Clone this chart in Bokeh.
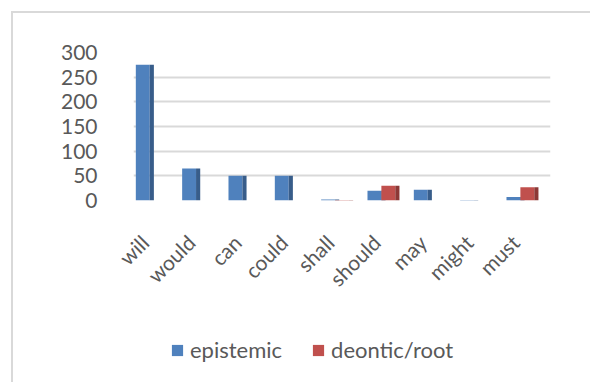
import math
from bokeh.plotting import figure
from bokeh.layouts import column
from bokeh.models import (ColumnDataSource, FixedTicker, Legend, LegendItem,
                          LinearAxis, Range1d)
from bokeh.transform import dodge
from bokeh.embed import file_html
from bokeh.resources import INLINE

categories = ["will", "would", "can", "could", "shall", "should", "may", "might", "must"]
epistemic = [275, 65, 50, 50, 2, 20, 22, 1, 7]
deontic = [0, 0, 0, 0, 1, 30, 0, 0, 27]
y_ticks = [0, 50, 100, 150, 200, 250, 300]
series_names = ["epistemic", "deontic/root"]

FONT = "Lato"
TXT = "#595959"
BLUE, BLUE_SIDE = "#4F81BD", "#385D8A"
RED, RED_SIDE = "#C0504D", "#8C3836"

n = len(categories)
src = ColumnDataSource(dict(idx=list(range(n)), cat=categories, epi=epistemic, deo=deontic))

label_shift = 0.26  # labels sit slightly left of the bar groups, as in the original
p = figure(x_range=Range1d(-0.5, n - 0.5), y_range=(0, 300),
           width=577, height=317, output_backend="svg", toolbar_location=None,
           min_border_left=120, min_border_right=40, min_border_top=39, min_border_bottom=130)
p.extra_x_ranges = {"labels": Range1d(-0.5 + label_shift, n - 0.5 + label_shift)}
p.outline_line_color = None
p.background_fill_color = "white"
p.border_fill_color = "white"

bw = 0.3
sw = 0.09
p.vbar(x=dodge("idx", -0.3), top="epi", width=bw, source=src,
       fill_color=BLUE, line_color=None)
p.vbar(x=dodge("idx", -0.15 + sw / 2), top="epi", width=sw, source=src,
       fill_color=BLUE_SIDE, line_color=None)
p.vbar(x=dodge("idx", 0.0), top="deo", width=bw, source=src,
       fill_color=RED, line_color=None)
p.vbar(x=dodge("idx", 0.15 + sw / 2), top="deo", width=sw, source=src,
       fill_color=RED_SIDE, line_color=None)

p.xgrid.grid_line_color = None
p.ygrid.grid_line_color = "#D9D9D9"
p.ygrid.grid_line_width = 2
p.yaxis.ticker = FixedTicker(ticks=y_ticks)
p.xaxis[0].visible = False

xlab = LinearAxis(x_range_name="labels",
                  ticker=FixedTicker(ticks=list(range(n))),
                  major_label_overrides={i: c for i, c in enumerate(categories)})
p.add_layout(xlab, "below")

for ax in (xlab, p.yaxis[0]):
    ax.axis_line_color = None
    ax.major_tick_line_color = None
    ax.minor_tick_line_color = None
    ax.major_label_text_font = FONT
    ax.major_label_text_font_size = "21px"
    ax.major_label_text_color = TXT
p.yaxis.major_label_standoff = 30
xlab.major_label_standoff = 32
xlab.major_label_orientation = math.pi / 4

# legend-only strip below the chart (placeholder swatches lie outside its visible range)
lg = figure(width=577, height=52, output_backend="svg", toolbar_location=None,
            x_range=(0, 1), y_range=(0, 1), min_border=0)
lg.axis.visible = False
lg.grid.visible = False
lg.outline_line_color = None
lg.border_fill_color = "white"
swatch = ColumnDataSource(dict(l=[5], r=[6], b=[5], t=[6]))
d1 = lg.quad(left="l", right="r", bottom="b", top="t", source=swatch,
             fill_color=BLUE, line_color=None)
d2 = lg.quad(left="l", right="r", bottom="b", top="t", source=swatch,
             fill_color=RED, line_color=None)
legend = Legend(items=[LegendItem(label=series_names[0], renderers=[d1]),
                       LegendItem(label=series_names[1], renderers=[d2])],
                location=(37, 19), orientation="horizontal")
legend.padding = 0
legend.margin = 0
legend.spacing = 29
legend.label_standoff = 6
legend.glyph_width = 14
legend.glyph_height = 14
legend.label_text_font = FONT
legend.label_text_font_size = "22px"
legend.label_text_color = TXT
legend.border_line_color = None
legend.background_fill_alpha = 0
lg.add_layout(legend, "center")

layout = column(p, lg, spacing=0)
layout.styles = {"margin-left": "11px", "margin-top": "11px",
                 "border-left": "2px solid #D9D9D9", "border-top": "2px solid #D9D9D9"}

open("out.html", "w").write(file_html(layout, INLINE))
